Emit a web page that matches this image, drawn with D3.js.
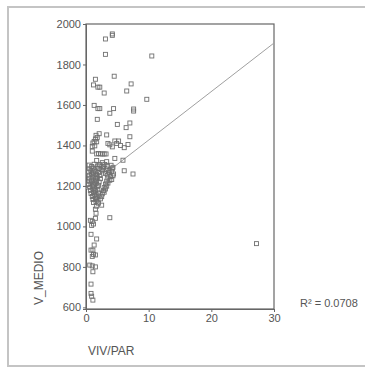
<!DOCTYPE html>
<html><head><meta charset="utf-8">
<script src="https://cdn.jsdelivr.net/npm/d3@7"></script>
<style>body{margin:0;background:#fff}svg{display:block}text{font-family:"Liberation Sans",Arial,sans-serif}</style>
</head><body><svg id="c" width="365" height="368"></svg>
<script>
const xTicks = [0, 10, 20, 30];
const yTicks = [600, 800, 1000, 1200, 1400, 1600, 1800, 2000];
const xLabel = "VIV/PAR";
const yLabel = "V_MEDIO";
const r2Text = "R² = 0.0708";
const fitLine = [[0, 1187], [30, 1906]];
const outerPoints = [
[3.1,1926],[4.2,1951],[4.2,1944],[3.1,1850],[10.5,1842],
[1.5,1727],[4.5,1742],[1.2,1699],[1.9,1688],[2.2,1688],[7.2,1704],[6.5,1669],[2.9,1659],[9.7,1628],
[1.3,1598],[1.9,1582],[2.2,1582],[4.4,1582],[7.6,1580],[7.6,1570],[3.8,1559],[1.8,1529],[5.0,1504],[7.0,1511],[6.4,1488],
[2.1,1458],[3.3,1452],[7.0,1443],[1.6,1450],[1.5,1432],[1.3,1420],[1.1,1412],[1.8,1440],[1.7,1418],[1.4,1398],[1.0,1395],[1.0,1372],
[4.6,1422],[5.2,1422],[3.5,1410],[3.8,1403],[4.9,1410],[6.1,1389],[6.7,1405],[4.2,1393],[5.5,1400],
[1.7,1358],[2.0,1360],[2.3,1358],[2.6,1358],[2.9,1358],[3.2,1358],
[4.6,1336],[5.9,1327],[1.7,1326],[3.3,1320],[2.6,1315],[2.2,1305],
[6.1,1275],[7.5,1259],[3.8,1043],[1.7,938],[0.8,961],[1.3,908],[0.8,883],[1.1,883],[1.5,859],[1.0,852],[1.2,862],
[0.6,809],[1.0,805],[1.5,800],[1.1,776],[0.8,715],[0.8,669],[0.9,655],[1.1,636],[27.2,915],
[0.7,1030],[1.0,1025],[1.2,1012],[0.9,1005],[1.5,1040],[1.6,1065],[1.5,1085],[1.7,1100],[2.5,1105]
];
const clusterPoints = [
[0.5,1303],[0.9,1296],[1.3,1307],[1.8,1298],[2.2,1304],[2.7,1295],[3.0,1306],[3.4,1297],[4.0,1302],[4.3,1292],
[0.6,1284],[1.1,1288],[1.4,1279],[1.9,1286],[2.4,1281],[2.8,1289],[3.3,1283],[3.7,1277],[4.2,1285],
[0.4,1268],[0.8,1273],[1.2,1264],[1.6,1271],[2.1,1266],[2.6,1275],[3.1,1262],[3.6,1268],[4.1,1272],[4.4,1259],
[0.5,1253],[0.9,1258],[1.3,1249],[1.7,1256],[2.2,1251],[3.4,1254],[3.9,1246],[4.3,1250],
[0.6,1238],[1.0,1243],[1.5,1235],[1.8,1241],[2.3,1236],[3.5,1239],[4.1,1232],
[0.5,1223],[0.9,1228],[1.3,1220],[1.7,1226],[2.1,1219],[3.3,1224],[3.8,1228],
[0.4,1208],[0.8,1213],[1.2,1205],[1.6,1211],[2.0,1203],[3.1,1209],[3.5,1214],
[0.6,1193],[1.0,1198],[1.4,1190],[1.8,1196],[2.9,1192],[3.3,1199],
[0.7,1178],[1.1,1183],[1.5,1176],[1.9,1181],[2.8,1177],[3.1,1185],
[0.8,1163],[1.2,1168],[1.6,1160],[2.0,1166],[2.6,1161],[2.9,1169],
[1.0,1148],[1.3,1153],[1.7,1145],[2.1,1151],[2.5,1147],
[1.1,1133],[1.5,1138],[1.9,1130],[2.3,1136],
[1.2,1118],[1.6,1123],[2.0,1115]
];
const points = outerPoints.concat(clusterPoints);

const svg = d3.select("#c");
const L = 86, R = 274, T = 24, B = 309;
const x = d3.scaleLinear().domain([0, 30]).range([L, R]);
const y = d3.scaleLinear().domain([592, 2000]).range([B, T]);

// outer border
svg.append("rect").attr("x", 8).attr("y", 7).attr("width", 370).attr("height", 359)
  .attr("fill", "none").attr("stroke", "#c4c4c4").attr("stroke-width", 2);

// plot frame
svg.append("rect").attr("x", L).attr("y", T).attr("width", R - L).attr("height", B - T)
  .attr("fill", "none").attr("stroke", "#666").attr("stroke-width", 1.2);

const ya = svg.append("g").attr("transform", `translate(${L},0)`)
  .call(d3.axisLeft(y).tickValues(yTicks).tickSize(3).tickPadding(2).tickFormat(d3.format("d")));
const xa = svg.append("g").attr("transform", `translate(0,${B})`)
  .call(d3.axisBottom(x).tickValues(xTicks).tickSize(3).tickPadding(2).tickFormat(d3.format("d")));
[ya, xa].forEach(g => {
  g.select(".domain").attr("stroke", "#666");
  g.selectAll(".tick line").attr("stroke", "#666");
  g.selectAll("text").attr("fill", "#555").style("font-size", "11px")
    .style("font-family", '"Liberation Sans",Arial,sans-serif');
});

// fit line
svg.append("line")
  .attr("x1", x(fitLine[0][0])).attr("y1", y(fitLine[0][1]))
  .attr("x2", x(fitLine[1][0])).attr("y2", y(fitLine[1][1]))
  .attr("stroke", "#a0a0a0").attr("stroke-width", 1);

// points
svg.append("g").selectAll("rect").data(points).join("rect")
  .attr("x", d => x(d[0]) - 2).attr("y", d => y(d[1]) - 2)
  .attr("width", 4).attr("height", 4)
  .attr("fill", "none").attr("stroke", "#707070").attr("stroke-width", 0.9);

svg.append("text").attr("transform", "translate(43,278) rotate(-90)")
  .attr("text-anchor", "middle").attr("fill", "#555").style("font-size", "12px").text(yLabel);
svg.append("text").attr("x", 88).attr("y", 355)
  .attr("fill", "#555").style("font-size", "12px").text(xLabel);
svg.append("text").attr("x", 300).attr("y", 307)
  .attr("fill", "#555").style("font-size", "11px").text(r2Text);
</script></body></html>
